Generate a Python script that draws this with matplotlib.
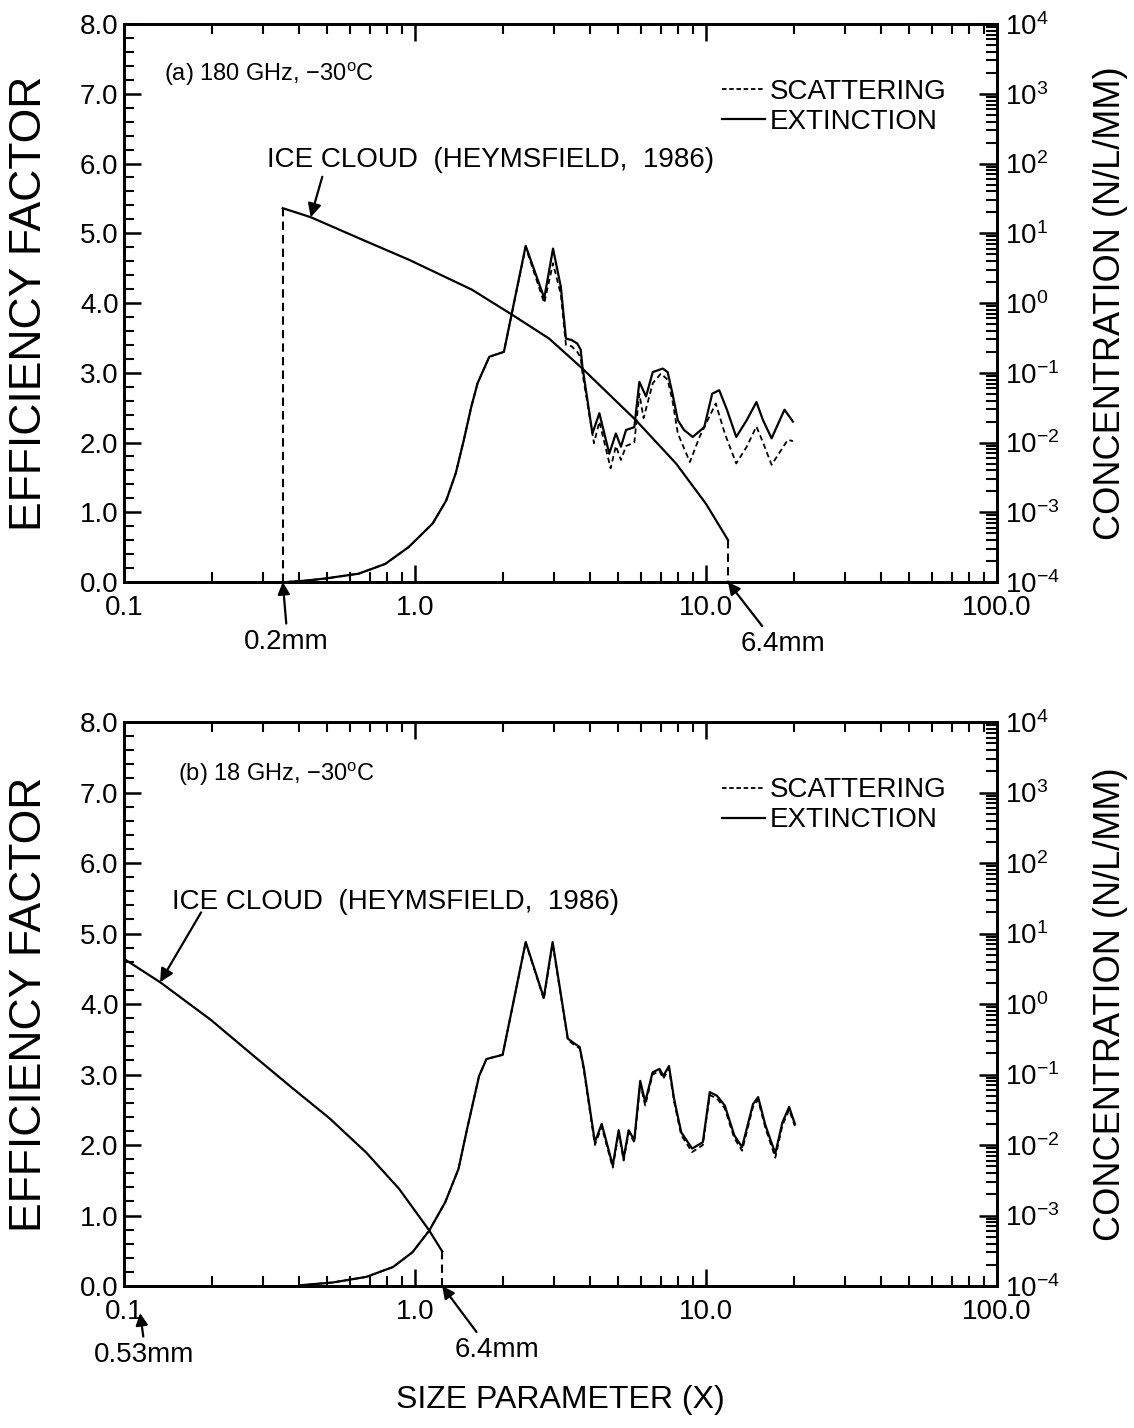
import numpy as np
import matplotlib
matplotlib.use("Agg")
import matplotlib.pyplot as plt
from matplotlib.lines import Line2D
from matplotlib.ticker import FixedLocator, FixedFormatter, NullFormatter
from matplotlib.transforms import offset_copy

#---------------------------------------------------
#----------------------fonts------------------------
#---------------------------------------------------
plt.rcParams['font.family'] = ['Liberation Sans', 'DejaVu Sans']
plt.rcParams['mathtext.fontset'] = 'custom'
plt.rcParams['mathtext.rm'] = 'Liberation Sans'
plt.rcParams['mathtext.it'] = 'Liberation Sans'

#---------------------------------------------------
#--------------------data (a) 180 GHz---------------
#---------------------------------------------------
ext_x_a = [0.36, 0.42, 0.49, 0.64, 0.79, 0.95, 1.15, 1.28, 1.38, 1.47,
           1.56, 1.64, 1.80, 2.02, 2.40, 2.78, 2.98, 3.17, 3.30, 3.45,
           3.61, 3.71, 3.76, 4.07, 4.30, 4.65, 4.90, 5.10, 5.31, 5.67,
           5.90, 6.22, 6.56, 7.10, 7.38, 7.66, 8.00, 8.40, 9.00, 9.86,
           10.5, 11.1, 11.8, 12.7, 13.8, 14.9, 15.7, 16.8, 18.6, 19.9]
ext_q_a = [0.0, 0.02, 0.05, 0.12, 0.26, 0.50, 0.84, 1.17, 1.56, 2.03,
           2.51, 2.85, 3.23, 3.30, 4.82, 4.07, 4.78, 4.23, 3.49, 3.47,
           3.42, 3.33, 3.09, 2.13, 2.42, 1.84, 2.13, 1.94, 2.18, 2.22,
           2.87, 2.66, 3.01, 3.06, 3.01, 2.71, 2.32, 2.18, 2.08, 2.22,
           2.70, 2.75, 2.47, 2.08, 2.32, 2.58, 2.32, 2.06, 2.47, 2.30]
sca_x_a = [0.36, 0.42, 0.49, 0.64, 0.79, 0.95, 1.15, 1.28, 1.38, 1.47,
           1.56, 1.64, 1.80, 2.02, 2.40, 2.78, 2.98, 3.17, 3.30, 3.45,
           3.61, 3.71, 3.76, 4.12, 4.30, 4.70, 4.90, 5.10, 5.31, 5.67,
           5.90, 6.10, 6.56, 7.00, 7.38, 7.66, 8.00, 8.80, 9.50, 10.8,
           11.6, 12.7, 13.8, 14.9, 15.7, 16.8, 19.1, 19.9]
sca_q_a = [0.0, 0.02, 0.05, 0.12, 0.26, 0.50, 0.84, 1.17, 1.56, 2.03,
           2.51, 2.85, 3.23, 3.30, 4.80, 4.00, 4.57, 4.12, 3.40, 3.38,
           3.30, 3.22, 3.00, 1.99, 2.30, 1.63, 1.95, 1.75, 1.95, 2.00,
           2.70, 2.35, 2.85, 2.99, 2.90, 2.61, 2.13, 1.72, 2.08, 2.56,
           2.13, 1.70, 1.94, 2.23, 2.00, 1.68, 2.04, 2.02]
ice_x_a = [0.351, 0.438, 0.641, 0.953, 1.57, 2.16, 2.89, 3.76, 5.74, 7.89, 10.0, 11.9]
ice_n_a = [22.9, 17.0, 8.5, 4.17, 1.55, 0.676, 0.309, 0.115, 0.0209, 0.0050,
           0.00132, 0.0004]

#---------------------------------------------------
#--------------------data (b) 18 GHz----------------
#---------------------------------------------------
ext_x_b = [0.40, 0.52, 0.68, 0.84, 0.98, 1.12, 1.27, 1.41, 1.51, 1.66, 1.76, 2.00,
           2.40, 2.77, 2.97, 3.35, 3.50, 3.68, 3.80, 4.15, 4.38, 4.78, 5.01, 5.21,
           5.42, 5.67, 5.94, 6.18, 6.55, 6.92, 7.13, 7.46, 7.77, 8.22, 8.96, 9.75,
           10.3, 10.9, 11.6, 12.5, 13.3, 14.5, 15.1, 16.0, 17.3, 18.3, 19.3, 20.2]
ext_q_b = [0.01, 0.05, 0.13, 0.27, 0.48, 0.79, 1.19, 1.66, 2.23, 2.98, 3.22, 3.28,
           4.88, 4.09, 4.88, 3.51, 3.45, 3.39, 3.10, 2.04, 2.30, 1.71, 2.21, 1.81,
           2.21, 2.07, 2.91, 2.61, 3.03, 3.08, 2.98, 3.12, 2.65, 2.18, 1.95, 2.04,
           2.75, 2.70, 2.56, 2.14, 1.97, 2.58, 2.68, 2.28, 1.88, 2.32, 2.54, 2.30]
sca_x_b = ext_x_b
sca_q_b = [0.01, 0.05, 0.13, 0.27, 0.48, 0.79, 1.19, 1.66, 2.23, 2.98, 3.22, 3.28,
           4.87, 4.07, 4.86, 3.49, 3.43, 3.37, 3.07, 2.00, 2.26, 1.68, 2.18, 1.78,
           2.18, 2.04, 2.87, 2.56, 3.00, 3.05, 2.94, 3.09, 2.61, 2.14, 1.90, 2.00,
           2.71, 2.66, 2.52, 2.10, 1.92, 2.54, 2.64, 2.24, 1.82, 2.28, 2.50, 2.27]
ice_x_b = [0.1, 0.133, 0.198, 0.278, 0.381, 0.508, 0.678, 0.881, 1.117, 1.24]
ice_n_b = [4.37, 2.04, 0.603, 0.186, 0.063, 0.024, 0.0079, 0.0024, 0.00062, 0.00031]

#---------------------------------------------------
#--------------------axis ticks---------------------
#---------------------------------------------------
x_ticks = [0.1, 1.0, 10.0, 100.0]
x_tick_labels = ['0.1', '1.0', '10.0', '100.0']
x_minor = [m * 10.0 ** k for k in (-1, 0, 1) for m in range(2, 10)]
q_ticks = [0, 1, 2, 3, 4, 5, 6, 7, 8]
n_exp = [-4, -3, -2, -1, 0, 1, 2, 3, 4]
n_minor = [m * 10.0 ** k for k in range(-4, 4) for m in range(2, 10)]

LW = 1.6
FS = 20


def draw_panel(ax, ext_x, ext_q, sca_x, sca_q, ice_x, ice_n, title, title_xy,
               ice_txt_xy, tail_xy, leg_anchor):
    ax.set_xscale('log')
    ax.set_xlim(0.1, 100)
    ax.set_ylim(0, 8)

    # efficiency curves
    ax.plot(sca_x, sca_q, color='k', lw=1.3, dashes=(3, 2))
    ax.plot(ext_x, ext_q, color='k', lw=LW)

    # concentration on right log axis
    ax2 = ax.twinx()
    ax2.set_yscale('log')
    ax2.set_ylim(1e-4, 1e4)
    ax2.plot(ice_x, ice_n, color='k', lw=LW)
    for i in (0, -1):
        ax2.plot([ice_x[i], ice_x[i]], [ice_n[i], 1e-4], color='k', lw=1.5,
                 dashes=(4, 2.5))

    # ticks
    ax.xaxis.set_major_locator(FixedLocator(x_ticks))
    ax.xaxis.set_major_formatter(FixedFormatter(x_tick_labels))
    ax.xaxis.set_minor_locator(FixedLocator(x_minor))
    ax.xaxis.set_minor_formatter(NullFormatter())
    ax.yaxis.set_major_locator(FixedLocator(q_ticks))
    ax.yaxis.set_major_formatter(FixedFormatter(['%.1f' % v for v in q_ticks]))
    ax.yaxis.set_minor_locator(FixedLocator(np.arange(0, 8.01, 0.2)))
    ax.tick_params(axis='x', which='both', direction='in', top=True, bottom=True)
    ax.tick_params(axis='x', which='major', length=12, width=1.8, labelsize=FS, pad=9)
    ax.tick_params(axis='x', which='minor', length=7, width=1.5)
    ax.tick_params(axis='y', which='major', direction='in', length=12, width=1.8,
                   labelsize=FS, pad=4)
    ax.tick_params(axis='y', which='minor', direction='in', length=7, width=1.5)

    ax2.yaxis.set_major_locator(FixedLocator([10.0 ** k for k in n_exp]))
    ax2.yaxis.set_major_formatter(FixedFormatter([r'$10^{%d}$' % k for k in n_exp]))
    ax2.yaxis.set_minor_locator(FixedLocator(n_minor))
    ax2.yaxis.set_minor_formatter(NullFormatter())
    ax2.tick_params(axis='y', which='major', direction='in', length=13, width=1.8,
                    labelsize=FS, pad=6)
    ax2.tick_params(axis='y', which='minor', direction='in', length=8, width=1.5)

    for a in (ax, ax2):
        for sp in a.spines.values():
            sp.set_linewidth(2.0)

    # texts
    ax.text(title_xy[0], title_xy[1], title, fontsize=17, ha='left', va='center')
    ax.text(ice_txt_xy[0], ice_txt_xy[1], 'ICE CLOUD  (HEYMSFIELD,  1986)',
            fontsize=FS, ha='left', va='center')
    ax.annotate('', xy=(ice_x[1], ice_n[1]), xycoords=ax2.transData,
                xytext=tail_xy, textcoords=ax.transData,
                arrowprops=dict(arrowstyle='-|>', color='k', lw=LW,
                                mutation_scale=20, shrinkA=0, shrinkB=0))

    # legend
    handles = [Line2D([], [], color='k', lw=1.3, dashes=(2.5, 1.5)),
               Line2D([], [], color='k', lw=LW)]
    ax.legend(handles, ['SCATTERING', 'EXTINCTION'], loc='upper left',
              bbox_to_anchor=leg_anchor, frameon=False, fontsize=FS,
              handlelength=1.55, handletextpad=0.18, labelspacing=0.15,
              borderaxespad=0, borderpad=0)
    return ax2


def mm_label(ax2, x, txt, dx, dy, relpos=(0.5, 1.0), tip=(0, 0)):
    tr = offset_copy(ax2.transData, fig=ax2.figure, x=tip[0], y=tip[1], units='dots')
    ax2.annotate(txt, xy=(x, 1e-4), xycoords=tr, xytext=(dx, dy),
                 textcoords='offset pixels', ha='center', va='center', fontsize=FS,
                 annotation_clip=False,
                 arrowprops=dict(arrowstyle='-|>', color='k', lw=LW,
                                 mutation_scale=18, shrinkA=2, shrinkB=0,
                                 relpos=relpos))


fig = plt.figure(figsize=(11.34, 14.28), dpi=100)
ax_a = fig.add_axes([0.1094, 0.5924, 0.7698, 0.3908])
ax_b = fig.add_axes([0.1094, 0.0994, 0.7698, 0.3950])

ax2_a = draw_panel(ax_a, ext_x_a, ext_q_a, sca_x_a, sca_q_a, ice_x_a, ice_n_a,
                   r'(a) 180 GHz, $-$30$^{\mathregular{o}}$C', (0.137, 7.28),
                   (0.31, 6.05), (0.48, 5.81), (0.6845, 0.902))
ax2_b = draw_panel(ax_b, ext_x_b, ext_q_b, sca_x_b, sca_q_b, ice_x_b, ice_n_b,
                   r'(b) 18 GHz, $-$30$^{\mathregular{o}}$C', (0.153, 7.25),
                   (0.146, 5.45), (0.184, 5.30), (0.6845, 0.902))

mm_label(ax2_a, ice_x_a[0], '0.2mm', 4, -60)
mm_label(ax2_a, ice_x_a[-1], '6.4mm', 55, -62, relpos=(0.3, 1.0))
mm_label(ax2_b, ice_x_b[0], '0.53mm', 4, -42, tip=(16, -27))
mm_label(ax2_b, ice_x_b[-1], '6.4mm', 55, -64, relpos=(0.3, 1.0))

# axis labels
for y in (0.7878, 0.2969):
    fig.text(0.026, y, 'EFFICIENCY FACTOR', rotation=90, fontsize=32,
             ha='center', va='center')
    fig.text(0.979, y, 'CONCENTRATION (N/L/MM)', rotation=90, fontsize=26,
             ha='center', va='center')
fig.text(0.494, 0.0196, 'SIZE PARAMETER (X)', fontsize=23, ha='center', va='center')

fig.savefig('out.png', dpi=100)
